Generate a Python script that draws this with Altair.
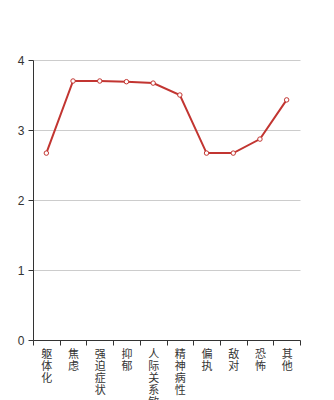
import altair as alt
import pandas as pd

categories = ["躯体化", "焦虑", "强迫症状", "抑郁", "人际关系敏感", "精神病性", "偏执", "敌对", "恐怖", "其他"]
values = [2.67, 3.70, 3.70, 3.69, 3.67, 3.50, 2.67, 2.67, 2.87, 3.43]

df = pd.DataFrame({"cat": categories, "val": values})

x = alt.X("cat:N", sort=categories, title=None,
          scale=alt.Scale(paddingInner=0, paddingOuter=0),
          axis=alt.Axis(labelAngle=0, labelExpr="split(datum.label, '')",
                        labelLineHeight=12, labelFontSize=11, labelFont="Noto Sans CJK SC",
                        labelColor="#333", labelPadding=3, labelBaseline="top",
                        tickBand="extent", tickSize=5, tickColor="#333",
                        domainColor="#333", grid=False))
y = alt.Y("val:Q", title=None,
          scale=alt.Scale(domain=[0, 4], nice=False),
          axis=alt.Axis(values=[0, 1, 2, 3, 4], labelFontSize=12, labelFont="Liberation Sans",
                        labelColor="#333", tickSize=5, tickColor="#333", domainColor="#333",
                        gridColor="#ccc", labelPadding=4))

line = alt.Chart(df).mark_line(color="#c23531", strokeWidth=2).encode(x=x, y=y)
pts = alt.Chart(df).mark_point(shape="circle", filled=True, fill="white", stroke="#c23531",
                               strokeWidth=1, size=20, opacity=1).encode(x=x, y=y)

chart = (line + pts).properties(
    width=267, height=280,
    autosize=alt.AutoSizeParams(type="none"),
    padding={"left": 33, "top": 60, "right": 34, "bottom": 60},
).configure_view(stroke=None)

chart.save("out.html", embed_options={"renderer": "svg", "actions": False})
